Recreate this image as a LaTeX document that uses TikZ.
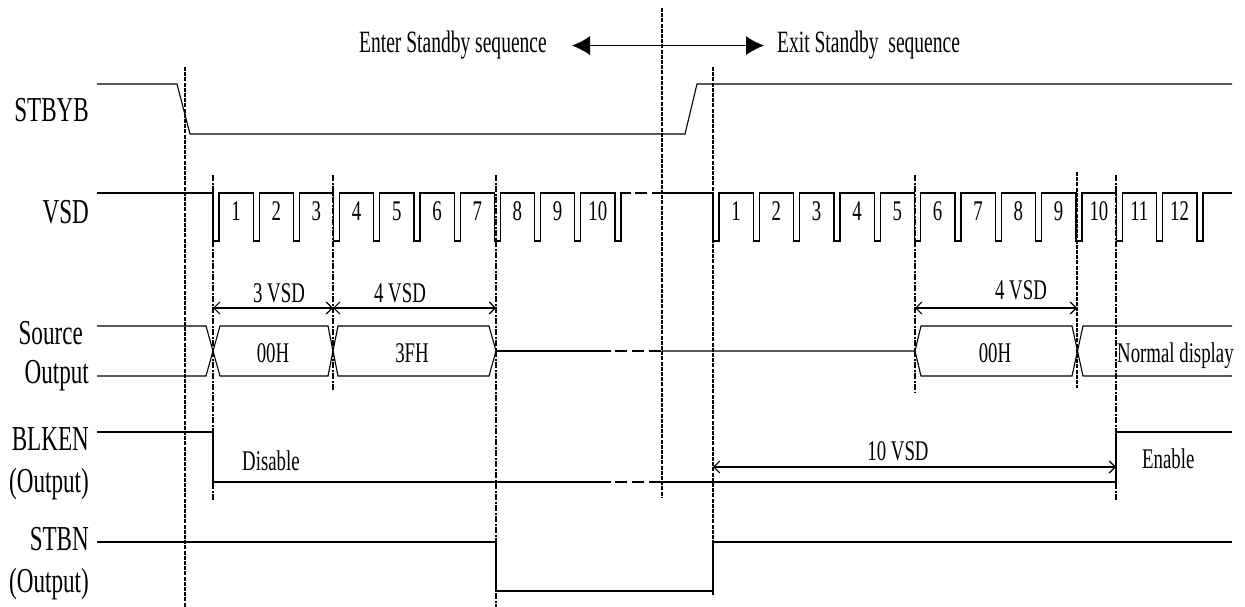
\documentclass[tikz,border=0pt]{standalone}
\usepackage{fontspec}
\setmainfont{Liberation Serif}[FakeStretch=0.66]
\newfontfamily\hdrfont{Liberation Serif}[FakeStretch=0.63]
\usetikzlibrary{arrows.meta}
\tikzset{
  sig/.style={line width=1.1pt, line join=miter},
  gapdash/.style={line width=2.6pt, dash pattern=on 12pt off 5pt},
  markthick/.style={line width=2.4pt, dash pattern=on 4pt off 1.2pt},
  markmid/.style={line width=1.8pt, dash pattern=on 4pt off 1.2pt},
  markthin/.style={line width=1.2pt, dash pattern=on 6pt off 1.5pt on 2pt off 1.5pt},
  dim/.style={line width=1.1pt, {Straight Barb[length=6pt,width=12pt]}-{Straight Barb[length=6pt,width=12pt]}},
  hdrarrow/.style={line width=1.1pt, {Latex[length=18pt,width=19pt]}-{Latex[length=18pt,width=19pt]}},
  big/.style={inner sep=0pt, font=\fontsize{35}{37}\selectfont},
  small/.style={inner sep=0pt, font=\fontsize{28.5}{30}\selectfont},
  hdr/.style={inner sep=0pt, font=\hdrfont\fontsize{31}{33}\selectfont},
}
\begin{document}
\begin{tikzpicture}[x=1pt, y=-1pt]
\useasboundingbox (0,0) rectangle (1245,607);

% header
\node[hdr, anchor=base east] (enter) at (547,53) {Enter Standby sequence};
\node[hdr, anchor=base west] (exit) at (777,53) {Exit Standby\ \ sequence};
\draw[hdrarrow] ([xshift=25pt]enter.east) -- ([xshift=-13pt]exit.west);

% signal labels
\node[big, anchor=base east] (lstbyb) at (89,122) {STBYB};
\node[big, anchor=base east] (lvsd) at (89,223) {VSD};
\node[big, anchor=base east] (lsrc) at (83,344) {Source};
\node[big, anchor=base east] (lout) at (89,383) {Output};
\node[big, anchor=base east] (lblk) at (89,450) {BLKEN};
\node[big, anchor=base east] (lblko) at (89,492) {(Output)};
\node[big, anchor=base east] (lstbn) at (89,550) {STBN};
\node[big, anchor=base east] (lstbno) at (89,592) {(Output)};

% vertical marker lines
\draw[markthick] (185,67) -- (185,607);
\draw[markthick] (662,8) -- (662,498);
\draw[markthick] (713,67) -- (713,595);
\draw[markthin] (213,175) -- (213,500);
\draw[markthin] (333,175) -- (333,390);
\draw[markthin] (496,175) -- (496,607);
\draw[markthin] (915,175) -- (915,392);
\draw[markmid] (1077,172) -- (1077,388);
\draw[markthin] (1116,175) -- (1116,500);

% STBYB
\draw[sig] (97,84) -- (177,84) -- (190,134) -- (685,134) -- (697,84) -- (1232,84);

% VSD
\draw[sig] (97,193) foreach \i in {0,...,10} { -- ({213+40.2*\i},193) -- ++(0,48) -- ++(6,0) -- ++(0,-48) } -- (631,193);
\draw[gapdash] (635,193) -- (662,193);
\draw[sig] (662,193) foreach \i in {0,...,12} { -- ({713+40.33*\i},193) -- ++(0,48) -- ++(6,0) -- ++(0,-48) } -- (1232,193);
\foreach \i in {1,...,10} \node[small, anchor=base] (va\i) at ({213+40.2*(\i-1)+23},220) {\i};
\foreach \i in {1,...,12} \node[small, anchor=base] (vb\i) at ({713+40.33*(\i-1)+23},220) {\i};

% dimension arrows
\coordinate (d1a) at (213,308);
\coordinate (d1b) at (333,308);
\coordinate (d2b) at (496,308);
\coordinate (d3a) at (915,308);
\coordinate (d3b) at (1077,308);
\coordinate (d4a) at (713,467);
\coordinate (d4b) at (1116,467);
\draw[dim] (d1a) -- (d1b);
\draw[dim] (d1b) -- (d2b);
\draw[dim] (d3a) -- (d3b);
\draw[dim] (d4a) -- (d4b);
\node[small, anchor=base] (t3vsd) at (279,302) {3 VSD};
\node[small, anchor=base] (t4vsda) at (400,302) {4 VSD};
\node[small, anchor=base] (t4vsdb) at (1021,299) {4 VSD};
\node[small, anchor=base] (t10vsd) at (898,460) {10 VSD};

% Source output
\draw[sig] (97,326) -- (206,326) -- (220,376) -- (328,376) -- (338,326) -- (489,326) -- (496,351)
  -- (489,376) -- (338,376) -- (328,326) -- (220,326) -- (206,376) -- (97,376);
\draw[sig] (496,351) -- (611,351);
\draw[gapdash] (615,351) -- (662,351);
\draw[sig] (662,351) -- (915,351) -- (921,326) -- (1072,326) -- (1083,376) -- (1232,376);
\draw[sig] (915,351) -- (921,376) -- (1072,376) -- (1083,326) -- (1232,326);
\node[small] (s00a) at (273,353) {00H};
\node[small] (s3fh) at (412,353) {3FH};
\node[small] (s00b) at (995,353) {00H};
\node[small, anchor=base west] (snorm) at (1117,362) {Normal display};

% BLKEN
\draw[sig] (97,432) -- (213,432) -- (213,482) -- (611,482);
\draw[gapdash] (615,482) -- (662,482);
\draw[sig] (662,482) -- (1116,482) -- (1116,432) -- (1232,432);
\node[small, anchor=base west] (tdis) at (242,470) {Disable};
\node[small, anchor=base west] (tena) at (1142,468) {Enable};

% STBN
\draw[sig] (97,542) -- (496,542) -- (496,591) -- (713,591) -- (713,542) -- (1232,542);
\end{tikzpicture}
\end{document}
